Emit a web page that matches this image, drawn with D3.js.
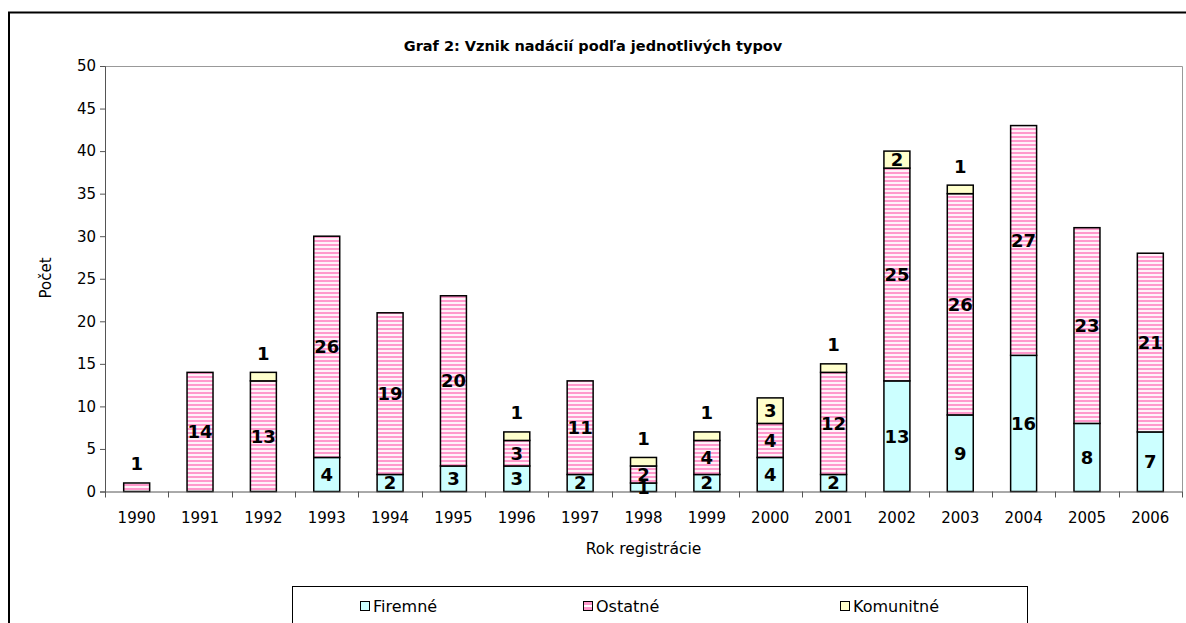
<!DOCTYPE html>
<html>
<head>
<meta charset="utf-8">
<script src="https://cdn.jsdelivr.net/npm/d3@7"></script>
<style>
  body { margin: 0; background: #fff; }
  svg { display: block; font-family: "DejaVu Sans", Verdana, sans-serif; }
</style>
</head>
<body>
<script>
const years = ["1990", "1991", "1992", "1993", "1994", "1995", "1996", "1997", "1998",
  "1999", "2000", "2001", "2002", "2003", "2004", "2005", "2006"];
const firemne = [0, 0, 0, 4, 2, 3, 3, 2, 1, 2, 4, 2, 13, 9, 16, 8, 7];
const ostatne = [1, 14, 13, 26, 19, 20, 3, 11, 2, 4, 4, 12, 25, 26, 27, 23, 21];
const komunitne = [0, 0, 1, 0, 0, 0, 1, 0, 1, 1, 3, 1, 2, 1, 0, 0, 0];
const seriesNames = ["Firemné", "Ostatné", "Komunitné"];
const yTicks = [0, 5, 10, 15, 20, 25, 30, 35, 40, 45, 50];

const w = 1186;
const h = 623;

const svg = d3.select("body")
  .append("svg")
  .attr("width", w)
  .attr("height", h);

// stripe pattern for "Ostatné"
const defs = svg.append("defs");
const pat = defs.append("pattern")
  .attr("id", "stripes")
  .attr("patternUnits", "userSpaceOnUse")
  .attr("width", 8)
  .attr("height", 4);
pat.append("rect").attr("width", 8).attr("height", 4).attr("fill", "#fff2f9");
pat.append("rect").attr("width", 8).attr("height", 2).attr("fill", "#ff99cc");

const fills = ["#ccffff", "url(#stripes)", "#ffffcc"];

// outer frame
svg.append("path")
  .attr("d", "M9,640 L9,12.5 L1200,12.5")
  .attr("fill", "none")
  .attr("stroke", "#000")
  .attr("stroke-width", 2);

const plotLeft = 105, plotRight = 1182, plotTop = 66, plotBottom = 491.5;

const table = years.map((y, i) => ({
  year: y, "Firemné": firemne[i], "Ostatné": ostatne[i], "Komunitné": komunitne[i]
}));
const stacked = d3.stack().keys(seriesNames)(table);

const x = d3.scaleBand()
  .domain(years)
  .range([plotLeft, plotRight])
  .paddingInner(0.59)
  .paddingOuter(0.295);

const xEdge = d3.scaleBand().domain(years).range([plotLeft, plotRight]);

const y = d3.scaleLinear().domain([0, 50]).range([plotBottom, plotTop]);

// plot area border (top + right)
svg.append("path")
  .attr("d", `M${plotLeft},${plotTop + 0.5} L${plotRight + 0.5},${plotTop + 0.5} L${plotRight + 0.5},${plotBottom}`)
  .attr("fill", "none")
  .attr("stroke", "#999")
  .attr("stroke-width", 1);

// title
svg.append("text")
  .attr("x", 593)
  .attr("y", 46)
  .attr("dy", "0.35em")
  .attr("text-anchor", "middle")
  .style("font-size", "14.5px")
  .style("font-weight", "bold")
  .text("Graf 2: Vznik nadácií podľa jednotlivých typov");

// bars
const layer = svg.selectAll("g.layer")
  .data(stacked)
  .enter()
  .append("g")
  .attr("class", "layer");

layer.selectAll("rect")
  .data((s, si) => s.map(d => ({ d, si })).filter(o => o.d[1] > o.d[0]))
  .enter()
  .append("rect")
  .attr("x", o => x(o.d.data.year))
  .attr("y", o => y(o.d[1]))
  .attr("width", x.bandwidth())
  .attr("height", o => y(o.d[0]) - y(o.d[1]))
  .attr("fill", o => fills[o.si])
  .attr("stroke", "#000")
  .attr("stroke-width", 1.5);

// y axis
const yAxis = svg.append("g")
  .attr("transform", `translate(${plotLeft},0)`)
  .call(d3.axisLeft(y).tickValues(yTicks).tickSize(5).tickPadding(4));
yAxis.selectAll("path, line").attr("stroke", "#555");
yAxis.selectAll("text").style("font-size", "15px").attr("fill", "#000")
  .style("font-family", "DejaVu Sans, sans-serif");

// x axis
const xAxis = svg.append("g")
  .attr("transform", `translate(0,${plotBottom})`)
  .call(d3.axisBottom(x).tickSize(0).tickPadding(21));
xAxis.select("path.domain").attr("stroke", "#555").attr("d", `M${plotLeft},0.5H${plotRight + 0.5}`);
xAxis.selectAll("text").style("font-size", "15px").attr("fill", "#000")
  .style("font-family", "DejaVu Sans, sans-serif");

// category boundary ticks
const edges = years.map(d => xEdge(d)).concat([plotRight]);
svg.append("g")
  .selectAll("line")
  .data(edges)
  .enter()
  .append("line")
  .attr("x1", d => Math.round(d) + 0.5)
  .attr("x2", d => Math.round(d) + 0.5)
  .attr("y1", plotBottom)
  .attr("y2", plotBottom + 6)
  .attr("stroke", "#555");

// value labels
const labels = [];
years.forEach((yr, i) => {
  const vals = [firemne[i], ostatne[i], komunitne[i]];
  let lastNonZero = -1;
  vals.forEach((v, k) => { if (v > 0) lastNonZero = k; });
  stacked.forEach((s, k) => {
    const seg = s[i];
    const v = seg[1] - seg[0];
    if (v <= 0) return;
    const above = v === 1 && k === lastNonZero;
    labels.push({
      x: x(yr) + x.bandwidth() / 2,
      y: above ? y(seg[1]) - 19 : (y(seg[0]) + y(seg[1])) / 2,
      text: v
    });
  });
});

svg.append("g")
  .selectAll("text")
  .data(labels)
  .enter()
  .append("text")
  .attr("x", d => d.x)
  .attr("y", d => d.y)
  .attr("dy", "0.36em")
  .attr("text-anchor", "middle")
  .style("font-size", "18px")
  .style("font-weight", "bold")
  .text(d => d.text);

// axis titles
svg.append("text")
  .attr("transform", "translate(46,278) rotate(-90)")
  .attr("text-anchor", "middle")
  .attr("dy", "0.35em")
  .style("font-size", "15px")
  .text("Počet");

svg.append("text")
  .attr("x", (plotLeft + plotRight) / 2)
  .attr("y", 549)
  .attr("dy", "0.35em")
  .attr("text-anchor", "middle")
  .style("font-size", "15.5px")
  .text("Rok registrácie");

// legend
const legend = svg.append("g");
legend.append("rect")
  .attr("x", 292.5)
  .attr("y", 586.5)
  .attr("width", 735)
  .attr("height", 60)
  .attr("fill", "#fff")
  .attr("stroke", "#000");

const legendX = [360, 583, 840];
const legendItem = legend.selectAll("g.item")
  .data(seriesNames)
  .enter()
  .append("g")
  .attr("class", "item")
  .attr("transform", (d, i) => `translate(${legendX[i]},606)`);

legendItem.append("rect")
  .attr("x", 0.5)
  .attr("y", -4.5)
  .attr("width", 9)
  .attr("height", 9)
  .attr("fill", (d, i) => i === 1 ? "#ff99cc" : fills[i])
  .attr("stroke", "#000");

legendItem.filter((d, i) => i === 1)
  .append("rect")
  .attr("x", 1)
  .attr("y", -1)
  .attr("width", 8)
  .attr("height", 2)
  .attr("fill", "#fff");

legendItem.append("text")
  .attr("x", 13)
  .attr("y", 0)
  .attr("dy", "0.35em")
  .style("font-size", "16px")
  .text(d => d);
</script>
</body>
</html>
